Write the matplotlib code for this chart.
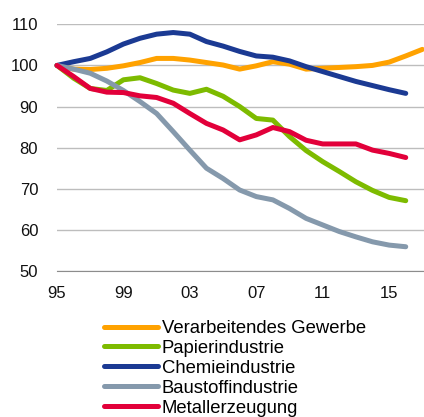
import matplotlib.pyplot as plt
import numpy as np

plt.rcParams['font.family'] = ['Liberation Sans', 'DejaVu Sans']

# Index values, 1995 = 100
years = np.arange(1995, 2018)
tick_years = [1995, 1999, 2003, 2007, 2011, 2015]
tick_labels = ['95', '99', '03', '07', '11', '15']

verarbeitend = [100, 99.1, 99.0, 99.3, 99.9, 100.7, 101.7, 101.7, 101.3, 100.7, 100.1,
                99.1, 99.9, 100.9, 100.3, 99.1, 99.3, 99.5, 99.7, 100.0, 100.8, 102.3, 103.9]
papier = [100, 96.9, 94.4, 93.9, 96.5, 97.0, 95.6, 94.0, 93.2, 94.2, 92.5,
          90.0, 87.1, 86.7, 82.7, 79.3, 76.6, 74.2, 71.7, 69.6, 67.9, 67.1]
chemie = [100, 100.9, 101.7, 103.3, 105.2, 106.6, 107.6, 108.0, 107.6, 105.8, 104.7,
          103.4, 102.3, 102.0, 101.1, 99.7, 98.5, 97.3, 96.1, 95.1, 94.1, 93.2]
baustoff = [100, 99.1, 98.1, 96.2, 93.9, 91.2, 88.3, 83.9, 79.4, 75.0, 72.5,
            69.7, 68.1, 67.3, 65.2, 62.8, 61.2, 59.6, 58.3, 57.1, 56.3, 55.9]
metall = [100, 97.3, 94.4, 93.5, 93.4, 92.6, 92.2, 90.8, 88.3, 85.9, 84.3,
          81.9, 83.1, 84.9, 83.9, 81.8, 80.9, 80.9, 80.9, 79.4, 78.6, 77.6]

series = [
    ('Verarbeitendes Gewerbe', verarbeitend, '#FFA200'),
    ('Papierindustrie', papier, '#7DBB00'),
    ('Chemieindustrie', chemie, '#1B3A93'),
    ('Baustoffindustrie', baustoff, '#8599AC'),
    ('Metallerzeugung', metall, '#E2003A'),
]

fig = plt.figure(figsize=(4.24, 4.17), dpi=100)
ax = fig.add_axes([57 / 424, 1 - 271 / 417, 1 - 57 / 424, (271 - 24.3) / 417])

for name, vals, col in series:
    ax.plot(years[:len(vals)], vals, color=col, lw=3.6, label=name,
            solid_capstyle='round', clip_on=False)

ax.set_xlim(1995, 2017.1)
ax.set_ylim(50, 110)
ax.set_yticks(range(50, 111, 10))
ax.set_xticks(tick_years)
ax.set_xticklabels(tick_labels)
ax.yaxis.grid(True, color='#BDBDBD', lw=1)
ax.set_axisbelow(True)
for s in ['top', 'right', 'left']:
    ax.spines[s].set_visible(False)
ax.spines['bottom'].set_color('#8C8C8C')
ax.tick_params(length=0, labelsize=12, colors='#111111')
ax.tick_params(axis='x', pad=11)
ax.tick_params(axis='y', pad=13.5)

leg = fig.legend(loc='upper left', bbox_to_anchor=(104 / 424, 1 - 320 / 417),
                 frameon=False, fontsize=13.3, handlelength=2.9,
                 handletextpad=0.22, labelspacing=0.16, borderaxespad=0,
                 borderpad=0)

fig.savefig('out.png', dpi=100)
